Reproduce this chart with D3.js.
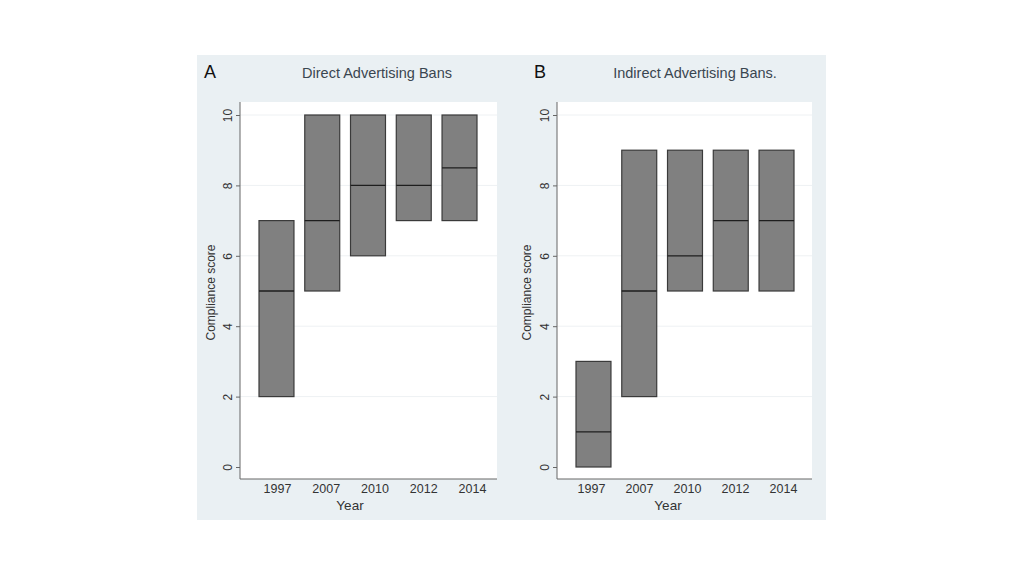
<!DOCTYPE html>
<html><head><meta charset="utf-8">
<script src="https://cdn.jsdelivr.net/npm/d3@7"></script>
<style>body{margin:0;background:#fff}svg{display:block}text{font-family:"Liberation Sans",Arial,sans-serif}</style>
</head><body>
<script>
const years = ["1997","2007","2010","2012","2014"];
const directLow    = [2, 5, 6, 7, 7];
const directMedian = [5, 7, 8, 8, 8.5];
const directHigh   = [7, 10, 10, 10, 10];
const indirectLow    = [0, 2, 5, 5, 5];
const indirectMedian = [1, 5, 6, 7, 7];
const indirectHigh   = [3, 9, 9, 9, 9];
const yTicks = [0, 2, 4, 6, 8, 10];
const panelLetters = ["A", "B"];
const panelTitles = ["Direct Advertising Bans", "Indirect Advertising Bans."];

const W = 1024, H = 576;
const svg = d3.select("body").append("svg").attr("width", W).attr("height", H);
svg.append("rect").attr("x", 197).attr("y", 55).attr("width", 629).attr("height", 465).attr("fill", "#eaf0f3");

const panels = [
  {letter: panelLetters[0], title: panelTitles[0], low: directLow, med: directMedian, high: directHigh,
   left: 240, right: 497, barRange: [259, 477], labelRange: [277, 472], letterX: 204, titleX: 377, yTitleX: 215, xTitleX: 350},
  {letter: panelLetters[1], title: panelTitles[1], low: indirectLow, med: indirectMedian, high: indirectHigh,
   left: 557, right: 812, barRange: [576, 794], labelRange: [591, 783], letterX: 534, titleX: 695, yTitleX: 531, xTitleX: 668}
];
const plotTop = 102, plotBottom = 479;
const y = d3.scaleLinear().domain([0, 10]).range([467, 115]);

panels.forEach(p => {
  const g = svg.append("g");
  g.append("rect").attr("x", p.left).attr("y", plotTop).attr("width", p.right - p.left).attr("height", plotBottom - plotTop).attr("fill", "#fff");
  g.selectAll(".grid").data(yTicks.filter(t => t > 0)).enter().append("line")
    .attr("x1", p.left).attr("x2", p.right).attr("y1", d => y(d)).attr("y2", d => y(d))
    .attr("stroke", "#eef1f3").attr("stroke-width", 1);
  const x = d3.scaleBand().domain(years).range(p.barRange).paddingInner(0.236).paddingOuter(0);
  const xl = d3.scalePoint().domain(years).range(p.labelRange);
  const data = years.map((yr, i) => ({yr, lo: p.low[i], md: p.med[i], hi: p.high[i]}));
  g.selectAll(".bar").data(data).enter().append("rect")
    .attr("x", d => x(d.yr)).attr("width", x.bandwidth())
    .attr("y", d => y(d.hi)).attr("height", d => y(d.lo) - y(d.hi))
    .attr("fill", "#808080").attr("stroke", "#3a3a3a").attr("stroke-width", 1.2);
  g.selectAll(".med").data(data).enter().append("line")
    .attr("x1", d => x(d.yr)).attr("x2", d => x(d.yr) + x.bandwidth())
    .attr("y1", d => y(d.md)).attr("y2", d => y(d.md))
    .attr("stroke", "#1e1e1e").attr("stroke-width", 1.3);
  const ya = g.append("g").attr("transform", `translate(${p.left},0)`)
    .call(d3.axisLeft(y).tickValues(yTicks).tickSize(4).tickSizeOuter(0).tickFormat(d3.format("d")));
  ya.select(".domain").remove();
  ya.selectAll(".tick line").attr("stroke", "#666");
  ya.selectAll(".tick text").attr("transform", "rotate(-90)").attr("x", 0).attr("y", -8)
    .attr("dy", 0).attr("text-anchor", "middle").attr("font-size", 12).attr("fill", "#333")
    .style("font-family", '"Liberation Sans",Arial,sans-serif');
  g.append("line").attr("x1", p.left).attr("x2", p.left).attr("y1", plotTop).attr("y2", plotBottom).attr("stroke", "#666").attr("stroke-width", 1);
  const xa = g.append("g").attr("transform", `translate(0,${plotBottom})`)
    .call(d3.axisBottom(xl).tickSize(0).tickPadding(0));
  xa.select(".domain").remove();
  xa.selectAll(".tick text").attr("y", 14).attr("dy", 0).attr("font-size", 12.5).attr("fill", "#333")
    .style("font-family", '"Liberation Sans",Arial,sans-serif');
  g.append("line").attr("x1", p.left).attr("x2", p.right).attr("y1", plotBottom).attr("y2", plotBottom).attr("stroke", "#666").attr("stroke-width", 1);
  g.append("text").attr("x", p.letterX).attr("y", 78).attr("font-size", 18).attr("fill", "#111").text(p.letter);
  g.append("text").attr("x", p.titleX).attr("y", 78).attr("text-anchor", "middle").attr("font-size", 14.5).attr("fill", "#3a4650").text(p.title);
  g.append("text").attr("transform", `translate(${p.yTitleX},${(plotTop + plotBottom) / 2 + 2}) rotate(-90)`).attr("text-anchor", "middle")
    .attr("font-size", 12).attr("fill", "#333").text("Compliance score");
  g.append("text").attr("x", p.xTitleX).attr("y", 510).attr("text-anchor", "middle").attr("font-size", 13.5).attr("fill", "#333").text("Year");
});
</script>
</body></html>
